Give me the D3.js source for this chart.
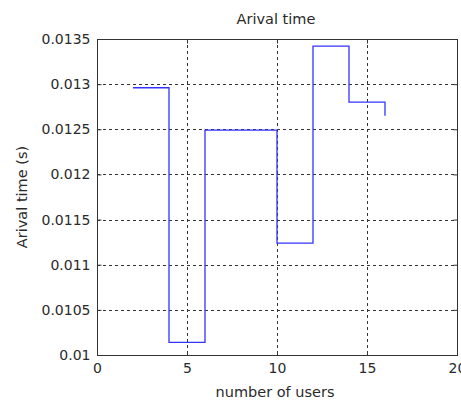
<!DOCTYPE html>
<html>
<head>
<meta charset="utf-8">
<script src="https://cdn.jsdelivr.net/npm/d3@7"></script>
<style>
  body { margin: 0; background: #fff; }
  svg { display: block; }
  text { font-family: "DejaVu Sans", Verdana, sans-serif; fill: #2a2a2a; }
</style>
</head>
<body>
<svg id="chart" width="461" height="400"></svg>
<script>

// users vs arrival time (stairs)
var users = [2, 4, 6, 10, 12, 14, 16];
var arrival = [0.01296, 0.01014, 0.01249, 0.01124, 0.01342, 0.01280, 0.01265];
var xTicks = [0, 5, 10, 15, 20];
var yTicks = [0.01, 0.0105, 0.011, 0.0115, 0.012, 0.0125, 0.013, 0.0135];

var svg = d3.select("#chart");
var plotLeft = 97, plotTop = 39, plotRight = 457, plotBottom = 355;

var x = d3.scaleLinear().domain([0, 20]).range([plotLeft, plotRight]);
var y = d3.scaleLinear().domain([0.01, 0.0135]).range([plotBottom, plotTop]);

// grid
var grid = svg.append("g").attr("stroke", "#333").attr("stroke-dasharray", "3,3").attr("stroke-width", 1);

grid.selectAll(".gx").data(xTicks.slice(1, -1)).enter().append("line")
    .attr("x1", function(d) { return Math.round(x(d)) + 0.5; })
    .attr("x2", function(d) { return Math.round(x(d)) + 0.5; })
    .attr("y1", plotTop).attr("y2", plotBottom);

grid.selectAll(".gy").data(yTicks.slice(1, -1)).enter().append("line")
    .attr("y1", function(d) { return Math.round(y(d)) + 0.5; })
    .attr("y2", function(d) { return Math.round(y(d)) + 0.5; })
    .attr("x1", plotLeft).attr("x2", plotRight);

// data line
var line = d3.line()
    .x(function(d, i) { return x(users[i]); })
    .y(function(d) { return y(d); })
    .curve(d3.curveStepAfter);

svg.append("path").datum(arrival)
    .attr("d", line)
    .attr("fill", "none")
    .attr("stroke", "#3333ff")
    .attr("stroke-width", 1.3);

// box
svg.append("rect")
    .attr("x", plotLeft + 0.5).attr("y", plotTop + 0.5)
    .attr("width", plotRight - plotLeft).attr("height", plotBottom - plotTop)
    .attr("fill", "none").attr("stroke", "#333").attr("stroke-width", 1);

// axes with inward ticks
var xAxis = d3.axisBottom(x).tickValues(xTicks).tickSize(-4).tickPadding(8).tickFormat(d3.format("d"));
var yAxis = d3.axisLeft(y).tickValues(yTicks).tickSize(-4).tickPadding(7).tickFormat(function(d) { return +d.toFixed(4); });

var gx = svg.append("g").attr("transform", "translate(0," + (plotBottom + 0.5) + ")").call(xAxis);
var gy = svg.append("g").attr("transform", "translate(" + (plotLeft + 0.5) + ",0)").call(yAxis);

[gx, gy].forEach(function(g) {
    g.select(".domain").remove();
    g.selectAll("line").attr("stroke", "#333");
    g.selectAll("text").style("font-size", "14px").style("font-family", "'DejaVu Sans', sans-serif").attr("fill", "#2a2a2a");
});

svg.append("g").attr("transform", "translate(0," + (plotTop + 0.5) + ")")
    .call(d3.axisTop(x).tickValues(xTicks).tickSize(-4).tickFormat(""))
    .call(function(g) { g.select(".domain").remove(); g.selectAll("line").attr("stroke", "#333"); });

svg.append("g").attr("transform", "translate(" + (plotRight + 0.5) + ",0)")
    .call(d3.axisRight(y).tickValues(yTicks).tickSize(-4).tickFormat(""))
    .call(function(g) { g.select(".domain").remove(); g.selectAll("line").attr("stroke", "#333"); });

// labels
svg.append("text").attr("x", 276).attr("y", 24).attr("text-anchor", "middle")
    .style("font-size", "14.5px").text("Arival time");

svg.append("text").attr("x", 275).attr("y", 397).attr("text-anchor", "middle")
    .style("font-size", "14.5px").text("number of users");

svg.append("text").attr("transform", "translate(27," + ((plotTop + plotBottom) / 2) + ") rotate(-90)")
    .attr("text-anchor", "middle")
    .style("font-size", "14.5px").text("Arival time (s)");

</script>
</body>
</html>
